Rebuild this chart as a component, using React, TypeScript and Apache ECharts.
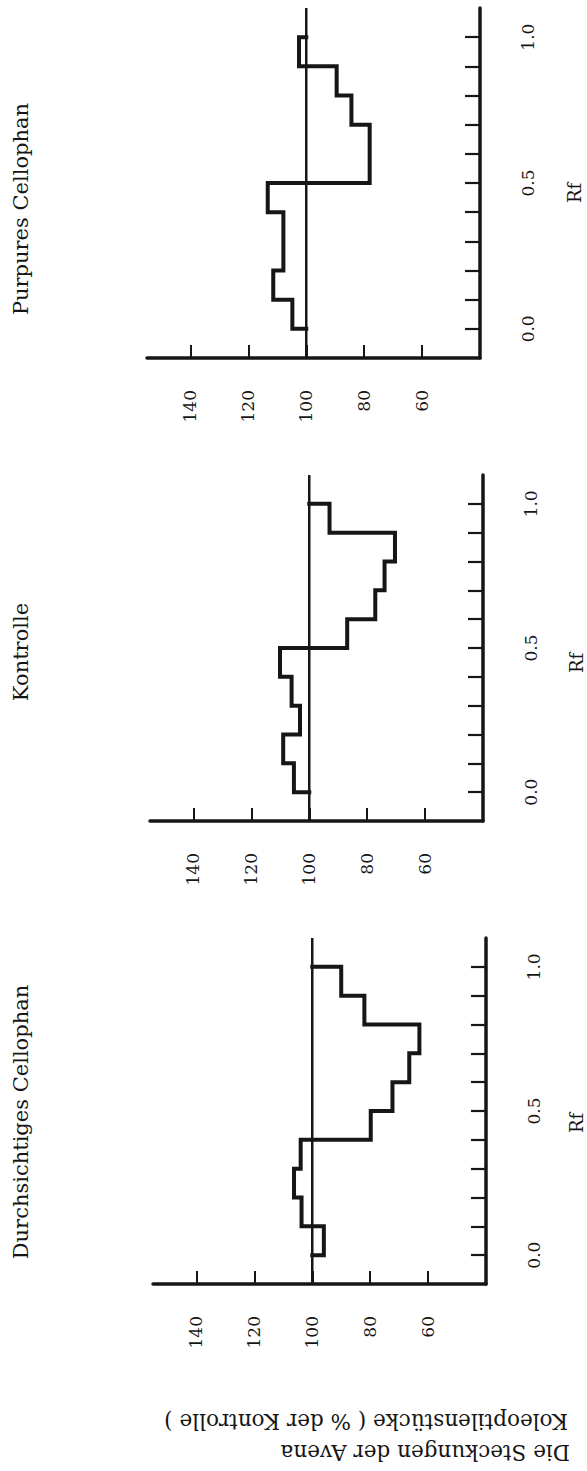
import React, { useEffect, useRef } from "react";
import * as echarts from "echarts";

// ---------- data ----------
const RF_EDGES = [0, 0.1, 0.2, 0.3, 0.4, 0.5, 0.6, 0.7, 0.8, 0.9, 1.0];
const PANEL_TITLES = ["Purpures Cellophan", "Kontrolle", "Durchsichtiges Cellophan"];
const PURPUR_VALUES = [104.8, 111.4, 107.9, 107.9, 113.3, 78.1, 78.1, 84.4, 89.5, 102.5];
const KONTROLLE_VALUES = [105.3, 109.0, 103.2, 106.1, 110.1, 86.9, 77.2, 74.0, 70.4, 93.0];
const DURCH_VALUES = [96.0, 103.7, 106.3, 104.0, 79.8, 72.3, 66.5, 63.0, 82.0, 90.0];
const VALUE_TICKS = [60, 80, 100, 120, 140];
const RF_TICKS = [0, 0.1, 0.2, 0.3, 0.4, 0.5, 0.6, 0.7, 0.8, 0.9, 1.0];
const RF_LABELS = [0, 0.5, 1.0];
const REFERENCE_VALUE = 100;
const VALUE_MIN = 40;
const VALUE_MAX = 155;
const RF_MIN = -0.1;
const RF_MAX = 1.1;
const RF_NAME = "Rf";
const Y_LABEL_LINES = ["Die Steckungen der Avena", "Koleoptilenstücke ( % der Kontrolle )"];

const PANEL_VALUES = [PURPUR_VALUES, KONTROLLE_VALUES, DURCH_VALUES];

// ---------- layout ----------
const LAYOUT = [
  { left: 147, top: 8, width: 333, height: 350, titleY: 209, rfX: 574, rfY: 193 },
  { left: 150, top: 475, width: 333, height: 346, titleY: 652, rfX: 576, rfY: 663 },
  { left: 153, top: 938, width: 333, height: 346, titleY: 1122, rfX: 576, rfY: 1123 },
];

const INK = "#161616";
const FONT = "DejaVu Serif";

function stepPoints(values: number[]): number[][] {
  const pts: number[][] = [[REFERENCE_VALUE, RF_EDGES[0]]];
  values.forEach((v, i) => {
    pts.push([v, RF_EDGES[i]]);
    pts.push([v, RF_EDGES[i + 1]]);
  });
  pts.push([REFERENCE_VALUE, RF_EDGES[RF_EDGES.length - 1]]);
  return pts;
}

function buildOption() {
  const grid: any[] = [];
  const xAxis: any[] = [];
  const yAxis: any[] = [];
  const series: any[] = [];
  const graphic: any[] = [];

  LAYOUT.forEach((L, i) => {
    grid.push({
      left: L.left,
      top: L.top,
      width: L.width,
      height: L.height,
      containLabel: false,
      outerBoundsMode: "none",
    });
    xAxis.push({
      gridIndex: i,
      type: "value",
      min: VALUE_MIN,
      max: VALUE_MAX,
      inverse: true,
      position: "bottom",
      axisLine: { show: true, onZero: false, lineStyle: { color: INK, width: 3.5 } },
      axisTick: {
        show: true,
        inside: true,
        length: 13,
        customValues: VALUE_TICKS,
        lineStyle: { color: INK, width: 2 },
      },
      axisLabel: {
        show: true,
        customValues: VALUE_TICKS,
        rotate: 90,
        margin: 32,
        fontFamily: FONT,
        fontSize: 17,
        color: INK,
      },
      splitLine: { show: false },
    });
    yAxis.push({
      gridIndex: i,
      type: "value",
      min: RF_MIN,
      max: RF_MAX,
      position: "right",
      axisLine: { show: true, onZero: false, lineStyle: { color: INK, width: 3.5 } },
      axisTick: {
        show: true,
        inside: true,
        length: 15,
        customValues: RF_TICKS,
        lineStyle: { color: INK, width: 2.2 },
      },
      axisLabel: {
        show: true,
        customValues: RF_LABELS,
        formatter: (v: number) => v.toFixed(1),
        rotate: 90,
        margin: 39,
        fontFamily: FONT,
        fontSize: 17,
        color: INK,
      },
      splitLine: { show: false },
    });
    series.push({
      type: "line",
      xAxisIndex: i,
      yAxisIndex: i,
      data: [
        [REFERENCE_VALUE, RF_MIN],
        [REFERENCE_VALUE, RF_MAX],
      ],
      showSymbol: false,
      symbol: "none",
      lineStyle: { color: INK, width: 2.5 },
      silent: true,
      z: 2,
    });
    series.push({
      type: "line",
      xAxisIndex: i,
      yAxisIndex: i,
      data: stepPoints(PANEL_VALUES[i]),
      showSymbol: false,
      symbol: "none",
      lineStyle: { color: INK, width: 4, join: "miter", cap: "square" },
      silent: true,
      z: 3,
    });
    graphic.push({
      type: "text",
      x: 21,
      y: L.titleY,
      rotation: Math.PI / 2,
      style: {
        text: PANEL_TITLES[i],
        x: 0,
        y: 0,
        align: "center",
        verticalAlign: "middle",
        font: `21px "${FONT}"`,
        fill: INK,
      },
    });
    graphic.push({
      type: "text",
      x: L.rfX,
      y: L.rfY,
      rotation: Math.PI / 2,
      style: {
        text: RF_NAME,
        x: 0,
        y: 0,
        align: "center",
        verticalAlign: "middle",
        font: `18px "${FONT}"`,
        fill: INK,
      },
    });
  });

  const yLabelPos = [
    { x: 570, y: 1452 },
    { x: 568, y: 1421 },
  ];
  Y_LABEL_LINES.forEach((line, k) => {
    graphic.push({
      type: "text",
      x: yLabelPos[k].x,
      y: yLabelPos[k].y,
      rotation: Math.PI,
      style: {
        text: line,
        x: 0,
        y: 0,
        align: "left",
        verticalAlign: "middle",
        font: `21.5px "${FONT}"`,
        fill: INK,
      },
    });
  });

  return {
    animation: false,
    backgroundColor: "#ffffff",
    grid,
    xAxis,
    yAxis,
    series,
    graphic,
  };
}

export default function App() {
  const ref = useRef<HTMLDivElement>(null);
  useEffect(() => {
    document.body.style.margin = "0";
    const chart = echarts.init(ref.current as HTMLDivElement, null, { renderer: "svg" });
    chart.setOption(buildOption() as any);
    return () => {
      chart.dispose();
    };
  }, []);
  return <div ref={ref} style={{ width: 587, height: 1471 }} />;
}
